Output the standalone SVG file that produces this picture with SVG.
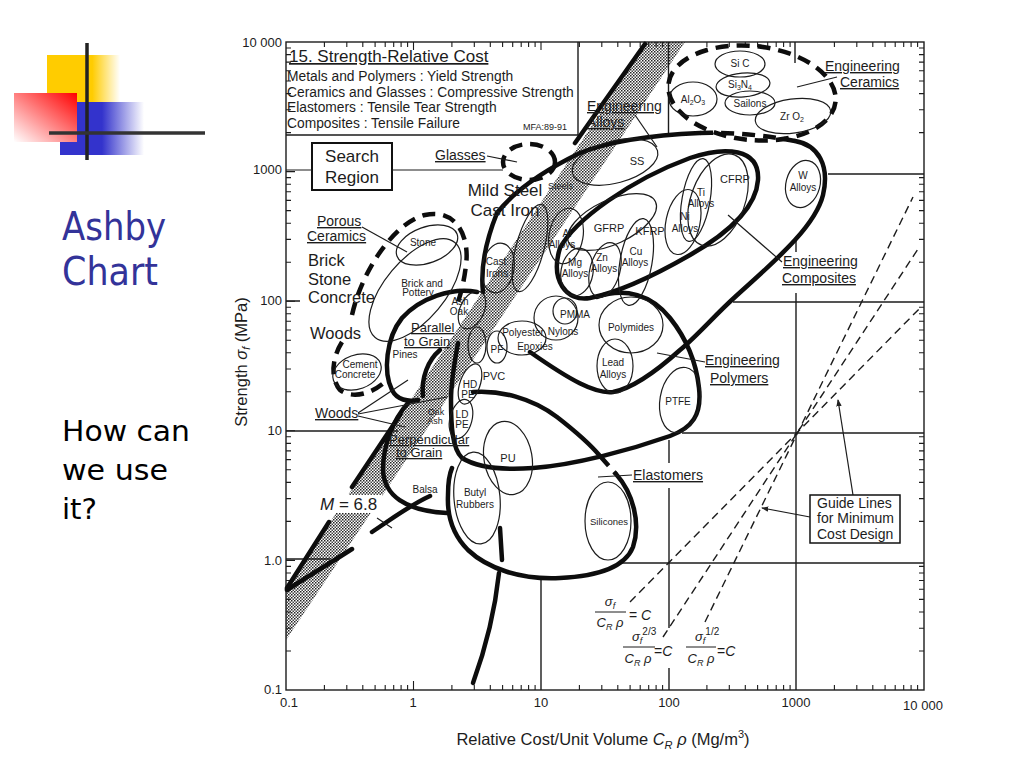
<svg xmlns="http://www.w3.org/2000/svg" width="1024" height="768" viewBox="0 0 1024 768">
<defs>
<linearGradient id="gy" x1="0" y1="0" x2="1" y2="0"><stop offset="0" stop-color="#FFCC00"/><stop offset="0.62" stop-color="#FFCC00"/><stop offset="1" stop-color="#FFCC00" stop-opacity="0"/></linearGradient>
<linearGradient id="gb" x1="0" y1="0" x2="1" y2="0"><stop offset="0" stop-color="#3333CC"/><stop offset="0.5" stop-color="#3333CC"/><stop offset="1" stop-color="#3333CC" stop-opacity="0"/></linearGradient>
<linearGradient id="gr" x1="1" y1="0" x2="0" y2="1"><stop offset="0" stop-color="#FF0000"/><stop offset="1" stop-color="#FFFFFF"/></linearGradient>
<pattern id="stip" width="3" height="3" patternUnits="userSpaceOnUse"><rect width="3" height="3" fill="#fff"/><rect width="1.5" height="1.5" fill="#222"/><rect x="1.5" y="1.5" width="1.5" height="1.5" fill="#444"/></pattern>
<marker id="ar" viewBox="0 0 8 8" refX="7" refY="4" markerWidth="6" markerHeight="6" orient="auto"><path d="M0,1 L8,4 L0,7 z" fill="#222"/></marker>
<style>
.f{font-family:"Liberation Sans",Arial,Helvetica,sans-serif;fill:#1c1c1c}
.s{font-size:10px}
.m{font-size:14px}
.m13{font-size:13px}
.l{font-size:17px}
.u{text-decoration:underline}
.c{text-anchor:middle}
.sl{font-family:"DejaVu Sans",Verdana,sans-serif}
.thk{fill:none;stroke:#0d0d0d;stroke-width:4.5;stroke-linecap:round;stroke-linejoin:round}
.dsh{fill:none;stroke:#0d0d0d;stroke-width:4.5;stroke-dasharray:13 8}
.thn{fill:none;stroke:#1c1c1c;stroke-width:1.2}
.ln{fill:none;stroke:#1c1c1c;stroke-width:1.2}
.grd{fill:none;stroke:#1c1c1c;stroke-width:1.4}
.tk{fill:none;stroke:#1c1c1c;stroke-width:1.1}
.gd{fill:none;stroke:#1c1c1c;stroke-width:1.4;stroke-dasharray:8 5}
</style>
</defs>
<rect width="1024" height="768" fill="#fff"/>

<g id="slide-deco">
<rect x="47" y="55" width="73" height="47" fill="url(#gy)"/>
<rect x="60" y="102" width="84" height="53" fill="url(#gb)"/>
<rect x="14" y="93" width="63" height="49" fill="url(#gr)"/>
<line x1="87" y1="43" x2="87" y2="160" stroke="#222" stroke-width="3.5"/>
<line x1="49" y1="133" x2="205" y2="133" stroke="#333" stroke-width="3.5"/>
</g>
<g id="slide-text">
<text class="sl" x="62" y="240" font-size="39" fill="#333399" textLength="104" lengthAdjust="spacingAndGlyphs">Ashby</text>
<text class="sl" x="62" y="285" font-size="39" fill="#333399" textLength="96" lengthAdjust="spacingAndGlyphs">Chart</text>
<text class="sl" x="62" y="441" font-size="29" fill="#000" textLength="128" lengthAdjust="spacingAndGlyphs">How can</text>
<text class="sl" x="62" y="480" font-size="29" fill="#000" textLength="106" lengthAdjust="spacingAndGlyphs">we use</text>
<text class="sl" x="62" y="519" font-size="29" fill="#000" textLength="35" lengthAdjust="spacingAndGlyphs">it?</text>
</g>

<g id="band">
<polygon points="286,589 647,42 685,42 286,640" fill="url(#stip)"/>
</g>

<g id="grid">
<rect x="286" y="42" width="638" height="648" class="grd" stroke-width="1.6"/>
<path class="grd" d="M578,42V135M286,135H578"/>
<path class="grd" d="M828,174H924M286,301H300M733,302H924M286,431H398M682,433H924M286,559H330M620,563H924"/>
<path class="grd" d="M668.5,42V135M669,440V463M669,488V628M669,668V690M795,42V63M796,238V252M796,293V690M541,578V690"/>
</g>

<g id="ticks">
<path class="tk" d="M286,651h5M286,628.2h5M286,612h5M286,599.4h5M286,589.2h5M286,580.5h5M286,573h5M286,566.4h5M286,560.4h9M286,521.4h5M286,498.6h5M286,482.4h5M286,469.8h5M286,459.6h5M286,450.9h5M286,443.4h5M286,436.8h5M286,430.8h9M286,391.8h5M286,369h5M286,352.8h5M286,340.2h5M286,330h5M286,321.3h5M286,313.8h5M286,307.2h5M286,301.2h9M286,262.2h5M286,239.4h5M286,223.2h5M286,210.6h5M286,200.4h5M286,191.7h5M286,184.2h5M286,177.6h5M286,171.6h9M286,132.6h5M286,109.8h5M286,93.6h5M286,81h5M286,70.8h5M286,62.1h5M286,54.6h5M286,48h5"/>
<path class="tk" d="M924,651h-5M924,628.2h-5M924,612h-5M924,599.4h-5M924,589.2h-5M924,580.5h-5M924,573h-5M924,566.4h-5M924,521.4h-5M924,498.6h-5M924,482.4h-5M924,469.8h-5M924,459.6h-5M924,450.9h-5M924,443.4h-5M924,436.8h-5M924,391.8h-5M924,369h-5M924,352.8h-5M924,340.2h-5M924,330h-5M924,321.3h-5M924,313.8h-5M924,307.2h-5M924,262.2h-5M924,239.4h-5M924,223.2h-5M924,210.6h-5M924,200.4h-5M924,191.7h-5M924,184.2h-5M924,177.6h-5M924,132.6h-5M924,109.8h-5M924,93.6h-5M924,81h-5M924,70.8h-5M924,62.1h-5M924,54.6h-5M924,48h-5"/>
<path class="tk" d="M324.4,690v-5M346.8,690v-5M362.8,690v-5M375.1,690v-5M385.2,690v-5M393.7,690v-5M401.1,690v-5M407.6,690v-5M413.5,690v-9M451.9,690v-5M474.3,690v-5M490.3,690v-5M502.6,690v-5M512.7,690v-5M521.2,690v-5M528.6,690v-5M535.1,690v-5M579.4,690v-5M601.8,690v-5M617.8,690v-5M630.1,690v-5M640.2,690v-5M648.7,690v-5M656.1,690v-5M662.6,690v-5M706.9,690v-5M729.3,690v-5M745.3,690v-5M757.6,690v-5M767.7,690v-5M776.2,690v-5M783.6,690v-5M790.1,690v-5M834.4,690v-5M856.8,690v-5M872.8,690v-5M885.1,690v-5M895.2,690v-5M903.7,690v-5M911.1,690v-5M917.6,690v-5"/>
<path class="tk" d="M324.4,42v5M346.8,42v5M362.8,42v5M375.1,42v5M385.2,42v5M393.7,42v5M401.1,42v5M407.6,42v5M413.5,42v8M451.9,42v5M474.3,42v5M490.3,42v5M502.6,42v5M512.7,42v5M521.2,42v5M528.6,42v5M535.1,42v5M541,42v8M579.4,42v5M601.8,42v5M617.8,42v5M630.1,42v5M640.2,42v5M648.7,42v5M656.1,42v5M662.6,42v5M706.9,42v5M729.3,42v5M745.3,42v5M757.6,42v5M767.7,42v5M776.2,42v5M783.6,42v5M790.1,42v5M834.4,42v5M856.8,42v5M872.8,42v5M885.1,42v5M895.2,42v5M903.7,42v5M911.1,42v5M917.6,42v5"/>
</g>

<g id="axis-labels" class="f" font-size="13">
<text x="282" y="47" text-anchor="end">10 000</text>
<text x="282" y="174" text-anchor="end">1000</text>
<text x="282" y="305" text-anchor="end">100</text>
<text x="282" y="435" text-anchor="end">10</text>
<text x="282" y="565" text-anchor="end">1.0</text>
<text x="282" y="694" text-anchor="end">0.1</text>
<text x="289" y="707" class="c">0.1</text>
<text x="413" y="707" class="c">1</text>
<text x="541" y="707" class="c">10</text>
<text x="669" y="707" class="c">100</text>
<text x="796" y="707" class="c">1000</text>
<text x="923" y="710" class="c">10 000</text>
<text transform="translate(247,362) rotate(-90)" class="c" font-size="16.5">Strength <tspan font-style="italic">σ</tspan><tspan font-style="italic" font-size="11" dy="3">f</tspan><tspan dy="-3"> (MPa)</tspan></text>
<text x="603" y="745" class="c" font-size="16.5">Relative Cost/Unit Volume <tspan font-style="italic">C</tspan><tspan font-style="italic" font-size="11" dy="4">R</tspan><tspan font-style="italic" dy="-4"> ρ</tspan> (Mg/m<tspan font-size="11" dy="-7">3</tspan><tspan dy="7">)</tspan></text>
</g>

<g id="header" class="f">
<text x="289" y="62" font-size="17" class="u">15. Strength-Relative Cost</text>
<text x="287" y="81" font-size="13.8">Metals and Polymers : Yield Strength</text>
<text x="287" y="97" font-size="13.8">Ceramics and Glasses : Compressive Strength</text>
<text x="287" y="112" font-size="13.8">Elastomers : Tensile Tear Strength</text>
<text x="287" y="128" font-size="13.8">Composites : Tensile Failure</text>
<text x="523" y="130" font-size="9">MFA:89-91</text>
</g>

<g id="search-region">
<rect x="312" y="143" width="80" height="47" fill="#fff" stroke="#111" stroke-width="2"/>
<text class="f l c" x="352" y="162">Search</text>
<text class="f l c" x="352" y="183">Region</text>
</g>

<g id="envelopes">
<path class="thk" d="M497,213 C515,190 545,170 580,153 C610,141 655,135 700,133"/>
<path class="dsh" d="M700,133 C735,132 770,136 795,141"/>
<path class="thk" d="M795,141 C818,145 830,165 823,195 C815,228 770,265 735,297 C715,315 697,336 680,350 C660,368 635,388 613,392 C595,394 570,380 530,352"/>
<path class="thk" d="M497,213 C487,238 480,265 483,292"/>
<path class="thk" d="M560,248 C575,220 630,180 690,158 C725,146 760,148 758,180 C756,210 725,235 690,255 C650,278 615,293 590,298 C566,302 550,280 560,248 Z"/>
<path class="thk" d="M597,297 C625,287 652,295 670,318 C686,338 696,360 699,388 C702,415 692,428 670,436 C630,450 575,465 533,468 C505,470 478,468 462,458 C452,448 451,425 451,400 C451,380 455,360 458,343"/>
<path class="thk" d="M473,392 C500,390 532,398 557,417 C575,431 590,444 600,456"/>
<path class="dsh" d="M600,456 L616,474"/>
<path class="thk" d="M616,474 C633,493 641,523 633,547 C625,567 600,576 560,578 C520,580 487,568 468,550 C453,535 447,515 448,495 C448,485 449,475 452,468"/>
<path class="thk" d="M477,292 C452,287 420,298 402,318 C386,338 383,372 392,390 C397,400 408,402 418,400"/>
<path class="thk" d="M440,350 C428,360 421,378 423,396"/>
<path class="thk" d="M408,403 C393,420 383,445 383,470 C384,495 405,511 447,513"/>
<path class="thk" d="M287,590 C310,575 335,560 352,549 M372,532 C390,520 410,505 430,496"/>
<path class="thk" d="M287,588 L329,522 M352,487 L400,415 M575,143 L645,44"/>
<path class="thk" d="M500,528 L502,560 M499,573 C495,610 485,650 473,683"/>
<ellipse class="dsh" cx="752" cy="93" rx="84" ry="47" transform="rotate(6 752 93)"/>
<ellipse class="dsh" cx="529" cy="162" rx="26" ry="18"/>
<path class="dsh" d="M352,315 C362,270 395,222 425,215 C455,208 470,235 466,265 C464,282 461,293 458,302"/>
<path class="dsh" d="M342,342 C332,358 330,378 340,390 C350,398 370,396 386,381"/>
</g>

<g id="ceramics" class="f s">
<g id="b-sic"><ellipse class="thn" cx="740" cy="64" rx="25" ry="13" fill="#fff"/><text class="c" x="740" y="67">Si C</text></g>
<g id="b-si3n4"><ellipse class="thn" cx="743" cy="85" rx="27" ry="12" fill="#fff" transform="rotate(-5 743 85)"/><text class="c" x="740" y="88">Si<tspan font-size="7" dy="2">3</tspan><tspan dy="-2">N</tspan><tspan font-size="7" dy="2">4</tspan></text></g>
<g id="b-al2o3"><ellipse class="thn" cx="693" cy="99" rx="24" ry="17" fill="#fff"/><text class="c" x="693" y="103">Al<tspan font-size="7" dy="2">2</tspan><tspan dy="-2">O</tspan><tspan font-size="7" dy="2">3</tspan></text></g>
<g id="b-sailons"><ellipse class="thn" cx="750" cy="103" rx="25" ry="12" fill="#fff"/><text class="c" x="750" y="107">Sailons</text></g>
<g id="b-zro2"><ellipse class="thn" cx="793" cy="116" rx="38" ry="17" fill="#fff" transform="rotate(-8 793 116)"/><text class="c" x="792" y="120">Zr O<tspan font-size="7" dy="2">2</tspan></text></g>
</g>

<g id="bubbles" class="f s">
<g id="b-ss"><ellipse class="thn" cx="615" cy="162" rx="44" ry="21" transform="rotate(-15 615 162)"/><text class="c" x="637" y="165" font-size="11">SS</text></g>
<g id="b-w"><ellipse class="thn" cx="803" cy="184" rx="17" ry="24" transform="rotate(15 803 184)"/><text class="c" x="803" y="179">W</text><text class="c" x="803" y="191">Alloys</text></g>
<g id="b-cfrp"><ellipse class="thn" cx="718" cy="200" rx="27" ry="48" transform="rotate(20 718 200)"/><text class="c" x="735" y="183" font-size="11">CFRP</text></g>
<g id="b-ti"><ellipse class="thn" cx="696" cy="200" rx="14" ry="42" transform="rotate(10 696 200)"/><text class="c" x="701" y="196">Ti</text><text class="c" x="701" y="207">Alloys</text></g>
<g id="b-ni"><ellipse class="thn" cx="683" cy="222" rx="17" ry="33" transform="rotate(12 683 222)"/><text class="c" x="685" y="220">Ni</text><text class="c" x="685" y="232">Alloys</text></g>
<g id="b-gfrp"><ellipse class="thn" cx="612" cy="222" rx="48" ry="22" transform="rotate(-25 612 222)"/><text class="c" x="609" y="232" font-size="11">GFRP</text></g>
<text class="c" x="650" y="235" font-size="11">KFRP</text>
<g id="b-cu"><ellipse class="thn" cx="636" cy="262" rx="16" ry="44" transform="rotate(10 636 262)"/><text class="c" x="636" y="255">Cu</text><text class="c" x="635" y="266">Alloys</text></g>
<g id="b-zn"><ellipse class="thn" cx="605" cy="270" rx="15" ry="28" transform="rotate(15 605 270)"/><text class="c" x="602" y="261">Zn</text><text class="c" x="604" y="272">Alloys</text></g>
<g id="b-mg"><ellipse class="thn" cx="577" cy="272" rx="16" ry="24" transform="rotate(10 577 272)"/><text class="c" x="575" y="266">Mg</text><text class="c" x="575" y="277">Alloys</text></g>
<g id="b-al"><ellipse class="thn" cx="566" cy="236" rx="17" ry="28" transform="rotate(10 566 236)"/><text class="c" x="567" y="237">Al</text><text class="c" x="562" y="248">Alloys</text></g>
<g id="b-steels"><ellipse class="thn" cx="530" cy="248" rx="14" ry="45" transform="rotate(15 530 248)"/><text x="548" y="189" font-size="9">Steels</text></g>
<g id="b-castirons"><ellipse class="thn" cx="498" cy="268" rx="16" ry="25" transform="rotate(10 498 268)"/><text class="c" x="496" y="265">Cast</text><text class="c" x="497" y="277">Irons</text></g>
<g id="b-pmma"><ellipse class="thn" cx="565" cy="311" rx="12" ry="13"/><text class="c" x="575" y="318">PMMA</text></g>
<g id="b-nylons"><ellipse class="thn" cx="556" cy="318" rx="22" ry="22"/><text class="c" x="563" y="335">Nylons</text></g>
<g id="b-polyester"><ellipse class="thn" cx="522" cy="338" rx="24" ry="17"/><text class="c" x="523" y="336">Polyester</text><text class="c" x="535" y="350">Epoxies</text></g>
<g id="b-pf"><ellipse class="thn" cx="497" cy="347" rx="10" ry="16"/><text class="c" x="497" y="353">PF</text></g>
<text class="c" x="494" y="380" font-size="11">PVC</text>
<g id="b-hdpe"><ellipse class="thn" cx="470" cy="384" rx="10" ry="21" transform="rotate(20 470 384)"/><text class="c" x="470" y="388">HD</text><text class="c" x="468" y="398">PE</text></g>
<g id="b-ldpe"><ellipse class="thn" cx="461" cy="419" rx="11" ry="20" transform="rotate(15 461 419)"/><text class="c" x="462" y="418">LD</text><text class="c" x="462" y="428">PE</text></g>
<g id="b-polymides"><ellipse class="thn" cx="631" cy="325" rx="32" ry="28"/><text class="c" x="631" y="331">Polymides</text></g>
<g id="b-lead"><ellipse class="thn" cx="615" cy="366" rx="18" ry="27"/><text class="c" x="613" y="366">Lead</text><text class="c" x="613" y="378">Alloys</text></g>
<g id="b-ptfe"><ellipse class="thn" cx="680" cy="400" rx="20" ry="33" transform="rotate(10 680 400)"/><text class="c" x="678" y="405">PTFE</text></g>
<g id="b-pu"><ellipse class="thn" cx="508" cy="458" rx="24" ry="37" transform="rotate(-10 508 458)"/><text class="c" x="508" y="462" font-size="11">PU</text></g>
<g id="b-butyl"><ellipse class="thn" cx="477" cy="498" rx="23" ry="46" transform="rotate(-5 477 498)"/><text class="c" x="475" y="496">Butyl</text><text class="c" x="475" y="508">Rubbers</text></g>
<g id="b-silicones"><ellipse class="thn" cx="608" cy="521" rx="23" ry="39"/><text class="c" x="609" y="525" font-size="9.5">Silicones</text></g>
<g id="b-cement"><ellipse class="thn" cx="357" cy="372" rx="25" ry="17" transform="rotate(-20 357 372)"/><text class="c" x="360" y="368">Cement</text><text class="c" x="355" y="378">Concrete</text></g>
<g id="b-stone"><ellipse class="thn" cx="427" cy="245" rx="32" ry="18" transform="rotate(-20 427 245)"/><text class="c" x="423" y="246">Stone</text></g>
<g id="b-brick"><ellipse class="thn" cx="415" cy="290" rx="62" ry="30" transform="rotate(-50 415 290)"/><text class="c" x="422" y="287">Brick and</text><text class="c" x="418" y="296">Pottery</text></g>
<g id="b-ashoak"><ellipse class="thn" cx="472" cy="310" rx="12" ry="20" transform="rotate(25 472 310)"/><ellipse class="thn" cx="477" cy="345" rx="9" ry="18"/><text class="c" x="460" y="305">Ash</text><text class="c" x="459" y="315">Oak</text></g>
<text class="c" x="405" y="358">Pines</text>
<text class="c" x="436" y="415" font-size="9">Oak</text>
<text class="c" x="435" y="424" font-size="9">Ash</text>
<text class="c" x="425" y="493">Balsa</text>
</g>

<g id="connectors" class="ln">
<path d="M286,170H312M392,170H503"/>
<path d="M487,156 L517,162"/>
<path d="M635,115 L657,147"/>
<path d="M797,87 L837,77"/>
<path d="M362,227 L407,252"/>
<path d="M728,215 L782,262"/>
<path d="M657,353 L705,362"/>
<path d="M598,477 L632,475"/>
<path d="M358,413 L408,380 M358,414 L447,397 M358,416 L405,427"/>
<path d="M377,518 L392,528"/>
<path d="M810,517 L762,508" marker-end="url(#ar)"/>
<path d="M853,495 L838,400" marker-end="url(#ar)"/>
</g>

<g id="labels" class="f">
<text class="m u" x="825" y="71">Engineering</text>
<text class="m u" x="840" y="87">Ceramics</text>
<text class="m u" x="587" y="111">Engineering</text>
<text class="m u" x="587" y="127">Alloys</text>
<text class="m u" x="435" y="160">Glasses</text>
<text class="l c" x="505" y="196">Mild Steel</text>
<text class="l c" x="505" y="216">Cast Iron</text>
<text class="m u" x="317" y="226">Porous</text>
<text class="m u" x="307" y="241">Ceramics</text>
<text x="308" y="266" font-size="16.5">Brick</text>
<text x="308" y="285" font-size="16.5">Stone</text>
<text x="308" y="303" font-size="16.5">Concrete</text>
<text x="310" y="339" font-size="16.5">Woods</text>
<text class="m13 u" x="411" y="332">Parallel</text>
<text class="m13 u" x="404" y="346">to Grain</text>
<text class="m u" x="315" y="418">Woods</text>
<text class="m13 u" x="389" y="444">Perpendicular</text>
<text class="m13 u" x="396" y="457">to Grain</text>
<rect x="318" y="495" width="64" height="18" fill="#fff"/>
<text x="320" y="510" font-size="17"><tspan font-style="italic">M</tspan> = 6.8</text>
<text class="m u" x="783" y="266">Engineering</text>
<text class="m u" x="782" y="283">Composites</text>
<text class="m u" x="705" y="365">Engineering</text>
<text class="m u" x="710" y="383">Polymers</text>
<text class="m u" x="633" y="480">Elastomers</text>
</g>

<g id="guide-lines">
<path class="gd" d="M630,602 L922,306"/>
<path class="gd" d="M663,637 L918,249"/>
<path class="gd" d="M705,622 L913,197"/>
<rect x="810" y="495" width="90" height="48" fill="#fff" stroke="#111" stroke-width="1.5"/>
<text class="f m" x="817" y="508">Guide Lines</text>
<text class="f m" x="817" y="523">for Minimum</text>
<text class="f m" x="817" y="539">Cost Design</text>
</g>

<g id="formulas" class="f" font-size="13">
<text x="610" y="606" class="c" font-style="italic">σ<tspan font-size="9" dy="3">f</tspan></text>
<line x1="595" y1="612" x2="626" y2="612" stroke="#1c1c1c" stroke-width="1"/>
<text x="610" y="627" class="c" font-style="italic">C<tspan font-size="9" dy="3">R</tspan><tspan dy="-3"> ρ</tspan></text>
<text x="629" y="620" font-size="14">= <tspan font-style="italic">C</tspan></text>
<text x="632" y="641" font-style="italic">σ<tspan font-size="9" dy="3">f</tspan><tspan font-size="10" font-style="normal" dy="-9">2/3</tspan></text>
<line x1="623" y1="647" x2="655" y2="647" stroke="#1c1c1c" stroke-width="1"/>
<text x="638" y="663" class="c" font-style="italic">C<tspan font-size="9" dy="3">R</tspan><tspan dy="-3"> ρ</tspan></text>
<text x="654" y="656" font-size="14">=<tspan font-style="italic">C</tspan></text>
<text x="695" y="641" font-style="italic">σ<tspan font-size="9" dy="3">f</tspan><tspan font-size="10" font-style="normal" dy="-9">1/2</tspan></text>
<line x1="686" y1="647" x2="716" y2="647" stroke="#1c1c1c" stroke-width="1"/>
<text x="701" y="663" class="c" font-style="italic">C<tspan font-size="9" dy="3">R</tspan><tspan dy="-3"> ρ</tspan></text>
<text x="717" y="656" font-size="14">=<tspan font-style="italic">C</tspan></text>
</g>
</svg>
